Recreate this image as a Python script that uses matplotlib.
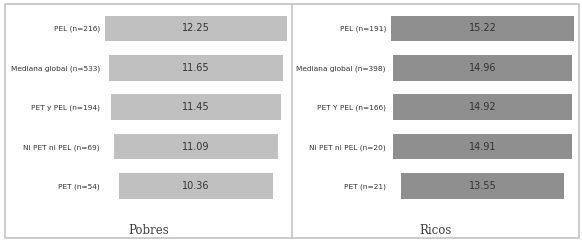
import numpy as np
import matplotlib.pyplot as plt
from matplotlib.patches import Rectangle
from matplotlib.lines import Line2D

# data
pobres_labels = ['PEL (n=216)', 'Mediana global (n=533)', 'PET y PEL (n=194)',
                 'Ni PET ni PEL (n=69)', 'PET (n=54)']
pobres_vals = [12.25, 11.65, 11.45, 11.09, 10.36]

ricos_labels = ['PEL (n=191)', 'Mediana global (n=398)', 'PET Y PEL (n=166)',
                'Ni PET ni PEL (n=20)', 'PET (n=21)']
ricos_vals = [15.22, 14.96, 14.92, 14.91, 13.55]

W, H = 582, 244
fig = plt.figure(figsize=(W / 100, H / 100), dpi=100)

# frame and divider
fig.add_artist(Rectangle((5 / W, 1 - 238 / H), 574 / W, 234 / H, transform=fig.transFigure,
                         fill=False, edgecolor='#c4c4c4', lw=1.2))
fig.add_artist(Line2D([292 / W, 292 / W], [1 - 238 / H, 1 - 4 / H], transform=fig.transFigure,
                      color='#c4c4c4', lw=1.2))

ax_bottom = 1 - 205.7 / H
ax_height = (205.7 - 8.8) / H


def funnel(left_px, width_px, labels, vals, color, title, title_x):
    ax = fig.add_axes([left_px / W, ax_bottom, width_px / W, ax_height])
    vals = np.array(vals)
    y = np.arange(len(vals))
    ax.barh(y, vals, left=-vals / 2, height=0.65, color=color)
    for yi, v in zip(y, vals):
        ax.text(0, yi, f'{v:.2f}', ha='center', va='center', fontsize=7, color='#333333')
    half = vals.max() / 2
    ax.set_xlim(-half, half)
    ax.set_ylim(len(vals) - 0.5, -0.5)
    ax.set_yticks(y)
    ax.set_yticklabels(labels, fontsize=5.3, color='#333333')
    ax.tick_params(axis='y', length=0, pad=3.6)
    ax.set_xticks([])
    for s in ax.spines.values():
        s.set_visible(False)
    ax.patch.set_alpha(0)
    fig.text(title_x / W, 1 - 230 / H, title, ha='center', va='center',
             family='DejaVu Serif', fontsize=8.5, color='#404040')


funnel(105, 182, pobres_labels, pobres_vals, '#c0c0c0', 'Pobres', 148.5)
funnel(391, 183, ricos_labels, ricos_vals, '#8f8f8f', 'Ricos', 436)

fig.savefig('out.png', dpi=100, facecolor='white')
